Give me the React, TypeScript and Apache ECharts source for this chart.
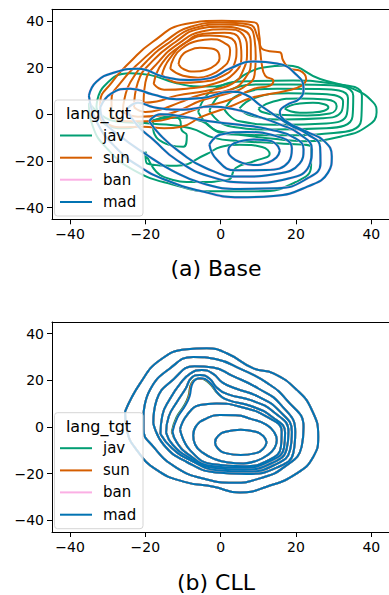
import React, { useEffect, useRef } from 'react';
import * as echarts from 'echarts';

type Pt = [number, number];

const langs = ['jav', 'sun', 'ban', 'mad'];
const langColors = ['#029e73', '#d55e00', '#fbafe4', '#0173b2'];
const tickValues = [-40, -20, 0, 20, 40];
const captions = ['(a) Base', '(b) CLL'];
const legendTitle = 'lang_tgt';

// ---------- (a) Base : contour lines ----------
const baseSun: Pt[][] = [
  [[-11.2, 21.5], [-10.5, 24.8], [-8.5, 27.3], [-5.5, 28.5], [-2.5, 28.2], [-0.6, 26.5], [-0.3, 24], [-1.5, 21], [-4, 19], [-7, 18.3], [-9.8, 19.3]],
  [[-13.4, 19.5], [-12.5, 24], [-10.5, 28], [-6, 31.5], [-2.5, 32.2], [0.5, 31], [2.5, 27.5], [2.2, 23.5], [0.5, 20], [-2.5, 17], [-6, 15.7], [-10, 16.5]],
  [[-15.6, 17], [-13.5, 24], [-8.5, 31.5], [-3, 33.8], [2, 33], [4.2, 28], [3.5, 21], [0, 16], [-5, 14], [-11, 13.5]],
  [[-17.8, 13], [-15.5, 22], [-10, 30], [-4.5, 34.5], [1, 35], [5, 32], [5.5, 25], [3.5, 17.5], [-2, 13], [-9, 11], [-15, 10.5]],
  [[-20.5, 5], [-20, 13.7], [-16.5, 22.5], [-11, 30.5], [-5, 35.5], [1, 36.5], [6, 34], [7, 27], [6, 19], [3, 13], [-4, 10], [-11.7, 8], [-17, 5.5]],
  [[-23, 3], [-22, 13.7], [-18, 23], [-12, 31], [-6, 36.5], [0, 37.5], [6, 36], [8, 30], [8, 23], [6.5, 15.5], [2.5, 10.5], [-5, 8.5], [-11, 5], [-16, 2], [-20, 1]],
  [[-26, 1], [-25.5, 7], [-24, 13.7], [-19.5, 23], [-13.5, 31], [-7, 37], [0, 38.5], [7, 37.5], [9, 32], [9.3, 25], [9, 17], [6, 11.5], [2, 9], [-5, 6], [-10.8, 1.8], [-16, -0.5], [-22, -1]],
  [[-29, -1], [-29, 6], [-26.5, 13.7], [-21, 23], [-15, 31], [-8, 37.5], [0, 39.3], [7.5, 38.5], [9.8, 33], [10.5, 27], [10.9, 21.6], [11.8, 16.6], [14, 14.4], [13.1, 12.3], [8.7, 10.9], [2, 6], [-5, 3], [-12, -1], [-18, -3], [-25, -3]],
  [[-32, -2], [-32, 5], [-28.9, 13.7], [-24, 22.5], [-18.2, 30.9], [-9.4, 38.7], [0.3, 40.1], [9, 39.4], [10.3, 33], [10.5, 29.4], [13, 27], [15.7, 26.6], [16.6, 23], [18.5, 19.5], [21, 18.7], [22.7, 15.1], [21.5, 12.3], [17.5, 10.1], [8.7, 7.3], [2, 3], [-5, -1], [-10.4, -5.3], [-15, -6], [-20.5, -5.3], [-27, -5.5]],
];

const baseJav: Pt[][] = [
  [[17, 2.5], [18.5, 3.8], [21, 4.6], [24.5, 4.9], [27.5, 4.3], [28.6, 3], [27.5, 1.5], [24.5, 0.8], [21, 0.7], [18.5, 1.3]],
  [[10, 2.5], [14, 5.5], [21, 6.8], [28, 6.3], [30.8, 3.5], [29, 0.3], [23, -0.5], [15, -0.2], [11, 1]],
  [[5, 2.5], [9, 7], [18, 9], [27, 8.7], [32.5, 5.5], [32, 1], [27, -1.7], [17, -2.2], [8, -0.5]],
  [[1, 2], [5, 8.5], [15, 11], [26, 10.8], [33.8, 7], [33.5, 0], [28, -3.9], [16, -4.5], [5, -3]],
  [[-3, 1.5], [1, 9.5], [12, 12.8], [25, 12.7], [35.2, 8], [35, -1], [28, -6], [14, -6.5], [2, -5]],
  [[-6, 1], [-2, 10.5], [8, 14.2], [19.3, 14.5], [28, 13.5], [37.5, 8], [37.3, -2.5], [30, -8], [15, -9], [0, -7.5]],
  [[-33, 3], [-31, 12], [-24, 17.6], [-18.9, 16.9], [-11.7, 13.3], [-4.6, 11.9], [2.5, 13.3], [7, 17.5], [11.3, 20.1], [17.5, 20.9], [26.4, 15.1], [35.2, 10.9], [40.5, 5.1], [41.4, 0.9], [39, -5], [32, -9.5], [22, -11.5], [14, -10.5], [6, -9], [0, -8], [-5, -3], [-10.8, -1.5], [-18, -2.5], [-25, -6], [-30, -5]],
  [[-35, 5], [-34, -5], [-30, -15], [-23, -24], [-13, -30], [-2, -33], [10, -33], [20, -29], [24, -22], [24, -14], [16, -12.5], [5, -11.5], [-2, -10], [-8, -6], [-18, -4], [-28, -3]],
  [[-18, -3], [-17.9, -6.7], [-13.5, -13.2], [-9.9, -13.9], [-9, -9], [-10.4, -6.7], [-10.8, -2.4], [-14, -1]],
  [[-20, -16], [-19.6, -21], [-11.7, -22], [-3.7, -17], [0, -14], [5, -13], [11, -14], [13, -17], [9, -20], [4, -23], [2, -28], [-6, -29], [-15, -27]],
];

const baseMad: Pt[][] = [
  [[15.7, -15.5], [14.6, -12.6], [12, -11.1], [8.7, -10.8], [5, -11.6], [2.7, -13.3], [2, -15.5], [3, -18.5], [5.5, -20.7], [8.7, -21.7], [12.3, -20.8], [14.8, -18.5]],
  [[-3, -13], [0, -8.7], [7, -7.6], [14, -9], [18.9, -14.5], [18, -20.5], [12, -23.9], [4, -24], [-1, -19.5]],
  [[-19, -3], [-16, 0], [-10, -1], [-3, -3], [5, -4.5], [13, -6.5], [19.5, -10], [22, -15], [21, -21], [15, -25.5], [5, -26.7], [-4, -23], [-11, -16], [-16, -9]],
  [[-25, 2], [-22, 5], [-17.8, 3], [-10, 2], [-2.8, 3.3], [4, 2], [10, -1], [16, -4.5], [21, -8.5], [24.2, -15], [23.5, -22], [18, -27.5], [8, -29.3], [-2.8, -26.7], [-11.7, -19.6], [-17.8, -11], [-22, -5]],
  [[-32, 3], [-29, 9], [-24, 11], [-18, 8.5], [-11.7, 6.5], [-5, 7], [2.5, 9.7], [6.5, 8.5], [10.4, 4], [14, 0], [18.4, -4.6], [23, -8.5], [26.4, -14], [26.5, -21], [23, -27.5], [15, -31.7], [5, -32], [-5, -29.5], [-13, -24], [-20, -17], [-27, -9], [-31, -3]],
  [[-35, 8], [-33, 14], [-28, 18], [-22, 19.5], [-15, 16], [-8, 14.7], [-2.8, 15.5], [2.5, 19.7], [8.7, 22.6], [14.9, 21.8], [20.2, 16.8], [22, 11.1], [21, 6.8], [17.5, 4], [15.7, 1], [17.5, -3.1], [22.8, -7.4], [27.5, -11.5], [29.5, -18], [28.5, -25], [23, -31], [14, -35], [5, -35.6], [-5, -33], [-14, -28.5], [-21, -23], [-28, -14], [-33, -3]],
];
const baseBan: Pt[][] = baseMad;

// ---------- (b) CLL ----------
const cllMad: Pt[][] = [
  [[12.2, -6.6], [11.3, -3.9], [9, -1.9], [5.3, -1.2], [1.6, -1.9], [-0.7, -3.9], [-1.5, -6.6], [-0.7, -9.3], [1.6, -11.3], [5.3, -12], [9, -11.3], [11.3, -9.3]],
  [[-7.3, -3.5], [-6.5, 0.5], [-4, 3.5], [-0.2, 5.1], [4, 5], [8, 3.5], [12.2, 0.9], [14.3, -2.5], [14.9, -5.6], [14.3, -9], [12.5, -12], [9.5, -14.5], [6, -15.6], [2, -15.2], [-1.5, -13.8], [-4.8, -11], [-6.8, -7.5]],
  [[-10.8, -1], [-9, 5], [-5.5, 9.4], [-1.1, 10.1], [5.1, 8.7], [12.2, 4.4], [16.2, -2], [16, -8.4], [13, -14], [6, -16.8], [-1.9, -16], [-8.1, -10]],
  [[-12.8, -2], [-11.5, 4], [-9.5, 9], [-8.3, 13], [-7.4, 19], [-5.5, 20.9], [-3, 19.2], [-0.5, 14], [2, 11.5], [8, 9], [13.5, 4.5], [17.1, -2.5], [16.8, -9], [13.2, -14.5], [5.5, -17.5], [-2.5, -16.7], [-8.8, -11.5], [-11.7, -6.5]],
  [[-14.5, -2.5], [-13.8, 4.5], [-11.5, 11], [-9.3, 16.5], [-7.8, 21], [-5.5, 22.3], [-3, 20.8], [-1, 16.8], [2, 14], [8, 11.5], [14, 6.5], [18, -2], [17.5, -9.5], [13.8, -15.3], [6, -18.3], [-2, -17.5], [-8.5, -13], [-12.8, -7.5]],
  [[-16, -3], [-15.5, 5], [-13.5, 12], [-10.8, 18.5], [-8, 23], [-5, 24.4], [-2, 22.8], [0.5, 19], [4, 16.5], [10, 13], [15.5, 7], [18.9, -2], [18.4, -10], [14.6, -16], [7, -19.1], [-1, -18.5], [-8, -14.3], [-13, -9]],
  [[-17.9, 1.6], [-17, 11.6], [-12.5, 20.5], [-7, 26], [-2, 25.5], [3, 22], [10, 16.5], [16, 9.5], [19.8, -2], [19.3, -11], [15, -17.3], [6.9, -20.1], [-1.1, -19.5], [-9, -15], [-15.2, -7.5]],
  [[-20.5, 5], [-18.8, 15.9], [-13.5, 25.1], [-7.3, 30], [-1.1, 29], [5.1, 25], [12.2, 19], [17.5, 11.6], [22, 0], [21.5, -8.4], [17, -17], [10.4, -22], [3.4, -23.9], [-3.7, -22.5], [-11.7, -17.5], [-17.9, -8.4], [-20.5, -1]],
  [[-25.4, 6.6], [-21.4, 18.7], [-16.1, 28.7], [-9, 33.3], [-3.7, 33.7], [1.6, 31.6], [8.7, 25.1], [14, 23], [20.2, 15.9], [24.2, 7.3], [25.9, -4.1], [24.6, -12.7], [20.2, -19.9], [12.2, -25.6], [5.1, -28.1], [-1.9, -25.6], [-9.9, -23.4], [-17, -18.4], [-22.3, -9.9], [-24.9, -1.3]],
];
const cllJavBump: Pt[] = [[-13, -2], [-11.8, 4], [-9.8, 9], [-8.6, 13], [-7.7, 19], [-5.6, 20.8], [-3.2, 19], [-0.6, 14], [2, 11.5], [8, 9], [13.5, 4.5], [17.1, -2.5], [16.8, -9], [13.2, -14.5], [5.5, -17.5], [-2.5, -16.7], [-8.8, -11.5], [-11.7, -6.5]];
const cllSunBump: Pt[] = [[-12.9, -2], [-11.6, 4], [-9.6, 9], [-8.5, 13], [-7.6, 19], [-5.5, 20.7], [-3.1, 19.1], [-0.5, 14], [2, 11.5], [8, 9], [13.5, 4.5], [17.1, -2.5], [16.8, -9], [13.2, -14.5], [5.5, -17.5], [-2.5, -16.7], [-8.8, -11.5], [-11.7, -6.5]];
const cllJav: Pt[][] = cllMad.map((c, i) => (i === 3 ? cllJavBump : c));
const cllSun: Pt[][] = cllMad.map((c, i) => (i === 3 ? cllSunBump : c));
const cllBan: Pt[][] = cllMad;

const panels = [
  { groups: [baseJav, baseSun, baseBan, baseMad], banWidth: 2.6 },
  { groups: [cllJav, cllSun, cllBan, cllMad], banWidth: 2 },
];

const FONT = 'DejaVu Sans';
const fmt = (v: number) => (v < 0 ? '\u2212' + Math.abs(v) : String(v));

// layout (pixels)
const GRID_LEFT = 52;
const GRID_W = 337.4;
const GRID_H = 210;
const GRID_TOPS = [9.3, 322];
const CAPTION_Y = [268, 582];

export default function App() {
  const ref = useRef<HTMLDivElement>(null);
  useEffect(() => {
    if (!ref.current) return;
    const chart = echarts.init(ref.current, undefined, { renderer: 'svg' });

    const grids: any[] = [];
    const xAxes: any[] = [];
    const yAxes: any[] = [];
    const series: any[] = [];
    const graphics: any[] = [];

    panels.forEach((p, gi) => {
      grids.push({ left: GRID_LEFT, top: GRID_TOPS[gi], width: GRID_W, height: GRID_H, outerBoundsMode: 'none', containLabel: false });
      xAxes.push({
        type: 'value', gridIndex: gi, min: -44.8, max: 44.8, position: 'bottom',
        axisLine: { show: true, onZero: false, lineStyle: { color: '#000', width: 1 } },
        axisTick: { show: true, length: 5, customValues: tickValues, lineStyle: { color: '#000', width: 1 } },
        axisLabel: { customValues: tickValues, formatter: fmt, color: '#000', fontSize: 14, fontFamily: FONT, margin: 8 },
        splitLine: { show: false },
      });
      yAxes.push({
        type: 'value', gridIndex: gi, min: -45, max: 45, position: 'left',
        axisLine: { show: true, onZero: false, lineStyle: { color: '#000', width: 1 } },
        axisTick: { show: true, length: 5, customValues: tickValues, lineStyle: { color: '#000', width: 1 } },
        axisLabel: { customValues: tickValues, formatter: fmt, color: '#000', fontSize: 14, fontFamily: FONT, margin: 8 },
        splitLine: { show: false },
      });
    });
    // top frame lines
    panels.forEach((p, gi) => {
      xAxes.push({
        type: 'value', gridIndex: gi, min: -44.8, max: 44.8, position: 'top',
        axisLine: { show: true, onZero: false, lineStyle: { color: '#000', width: 1 } },
        axisTick: { show: false }, axisLabel: { show: false }, splitLine: { show: false },
      });
    });

    panels.forEach((p, gi) => {
      p.groups.forEach((contours, li) => {
        contours.forEach((c) => {
          series.push({
            type: 'line', name: langs[li], xAxisIndex: gi, yAxisIndex: gi,
            data: [...c, c[0]], smooth: 0.5, showSymbol: false, symbol: 'none', silent: true,
            lineStyle: { color: langColors[li], width: li === 2 ? p.banWidth : 2 },
            z: 2,
          });
        });
      });

      const top = GRID_TOPS[gi] + 90.7;
      const elems: any[] = [
        { type: 'rect', z: 100, shape: { x: 54.5, y: top, width: 88.5, height: 116, r: 3 }, style: { fill: 'rgba(255,255,255,0.8)', stroke: '#d5d5d5', lineWidth: 1 } },
        { type: 'text', z: 101, x: 98.5, y: top + 13.5, style: { text: legendTitle, font: `16px "${FONT}"`, fill: '#000', textAlign: 'center', textVerticalAlign: 'middle' } },
      ];
      const ys = [35.5, 57.7, 79.7, 102];
      langs.forEach((l, li) => {
        elems.push({ type: 'line', z: 101, shape: { x1: 60, y1: top + ys[li], x2: 92, y2: top + ys[li] }, style: { stroke: langColors[li], lineWidth: 2 } });
        elems.push({ type: 'text', z: 101, x: 103, y: top + ys[li], style: { text: l, font: `15px "${FONT}"`, fill: '#000', textAlign: 'left', textVerticalAlign: 'middle' } });
      });
      elems.push({ type: 'text', z: 101, x: 216, y: CAPTION_Y[gi], style: { text: captions[gi], font: `22px "${FONT}"`, fill: '#000', textAlign: 'center', textVerticalAlign: 'middle' } });
      graphics.push(...elems);
    });

    chart.setOption({
      animation: false,
      backgroundColor: '#fff',
      grid: grids,
      xAxis: xAxes,
      yAxis: yAxes,
      series,
      graphic: graphics,
    });
    return () => chart.dispose();
  }, []);
  return <div ref={ref} style={{ position: 'fixed', left: 0, top: 0, width: 389, height: 595 }} />;
}
